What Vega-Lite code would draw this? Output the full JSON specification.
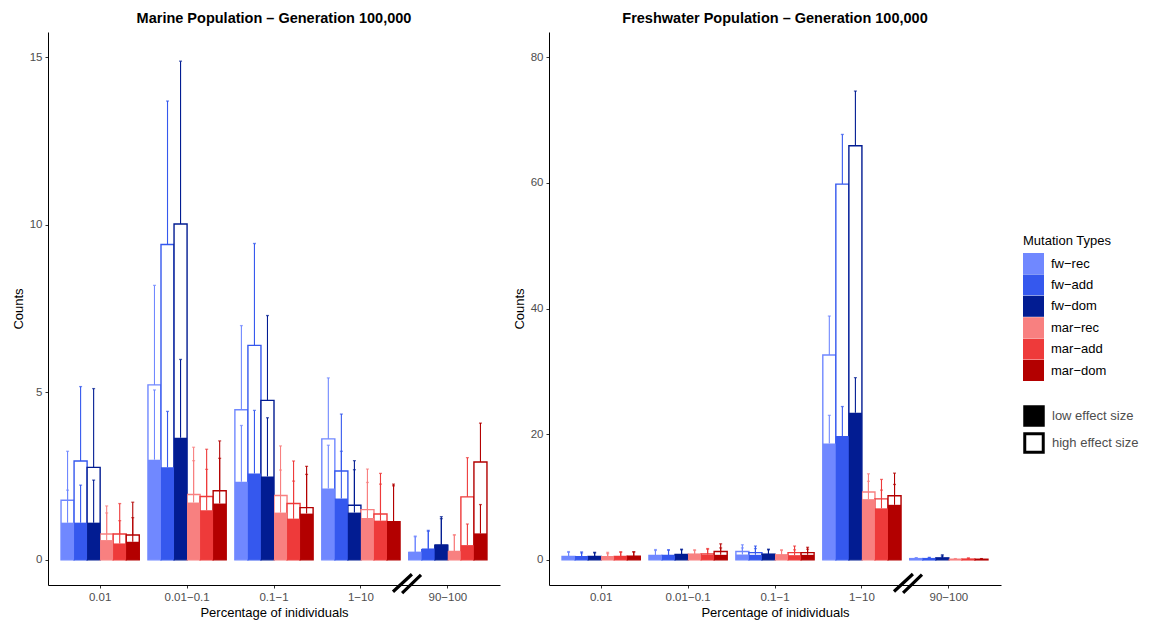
{
  "$schema": "https://vega.github.io/schema/vega-lite/v6.json",
  "padding": {"left": 12, "top": 10, "right": 5, "bottom": 5},
  "datasets": {
    "marine": [
      {"c":"0.01","t":"fw-rec","e":"low effect size","v":1.11,"u":2.08},
      {"c":"0.01","t":"fw-add","e":"low effect size","v":1.11,"u":2.23},
      {"c":"0.01","t":"fw-dom","e":"low effect size","v":1.11,"u":2.38},
      {"c":"0.01","t":"mar-rec","e":"low effect size","v":0.59,"u":1.40},
      {"c":"0.01","t":"mar-add","e":"low effect size","v":0.49,"u":1.17},
      {"c":"0.01","t":"mar-dom","e":"low effect size","v":0.54,"u":1.26},
      {"c":"0.01","t":"fw-rec","e":"high effect size","v":1.78,"u":3.24},
      {"c":"0.01","t":"fw-add","e":"high effect size","v":2.95,"u":5.17},
      {"c":"0.01","t":"fw-dom","e":"high effect size","v":2.76,"u":5.11},
      {"c":"0.01","t":"mar-rec","e":"high effect size","v":0.77,"u":1.61},
      {"c":"0.01","t":"mar-add","e":"high effect size","v":0.77,"u":1.68},
      {"c":"0.01","t":"mar-dom","e":"high effect size","v":0.74,"u":1.72},
      {"c":"0.01-0.1","t":"fw-rec","e":"low effect size","v":2.99,"u":5.07},
      {"c":"0.01-0.1","t":"fw-add","e":"low effect size","v":2.76,"u":4.43},
      {"c":"0.01-0.1","t":"fw-dom","e":"low effect size","v":3.64,"u":5.98},
      {"c":"0.01-0.1","t":"mar-rec","e":"low effect size","v":1.71,"u":2.96},
      {"c":"0.01-0.1","t":"mar-add","e":"low effect size","v":1.48,"u":2.70},
      {"c":"0.01-0.1","t":"mar-dom","e":"low effect size","v":1.68,"u":3.03},
      {"c":"0.01-0.1","t":"fw-rec","e":"high effect size","v":5.22,"u":8.19},
      {"c":"0.01-0.1","t":"fw-add","e":"high effect size","v":9.41,"u":13.69},
      {"c":"0.01-0.1","t":"fw-dom","e":"high effect size","v":10.02,"u":14.88},
      {"c":"0.01-0.1","t":"mar-rec","e":"high effect size","v":1.95,"u":3.36},
      {"c":"0.01-0.1","t":"mar-add","e":"high effect size","v":1.89,"u":3.30},
      {"c":"0.01-0.1","t":"mar-dom","e":"high effect size","v":2.06,"u":3.55},
      {"c":"0.1-1","t":"fw-rec","e":"low effect size","v":2.33,"u":4.01},
      {"c":"0.1-1","t":"fw-add","e":"low effect size","v":2.58,"u":4.46},
      {"c":"0.1-1","t":"fw-dom","e":"low effect size","v":2.49,"u":4.24},
      {"c":"0.1-1","t":"mar-rec","e":"low effect size","v":1.41,"u":2.68},
      {"c":"0.1-1","t":"mar-add","e":"low effect size","v":1.23,"u":2.35},
      {"c":"0.1-1","t":"mar-dom","e":"low effect size","v":1.38,"u":2.55},
      {"c":"0.1-1","t":"fw-rec","e":"high effect size","v":4.48,"u":6.99},
      {"c":"0.1-1","t":"fw-add","e":"high effect size","v":6.40,"u":9.44},
      {"c":"0.1-1","t":"fw-dom","e":"high effect size","v":4.76,"u":7.29},
      {"c":"0.1-1","t":"mar-rec","e":"high effect size","v":1.92,"u":3.40},
      {"c":"0.1-1","t":"mar-add","e":"high effect size","v":1.68,"u":2.95},
      {"c":"0.1-1","t":"mar-dom","e":"high effect size","v":1.56,"u":2.79},
      {"c":"1-10","t":"fw-rec","e":"low effect size","v":2.13,"u":3.42},
      {"c":"1-10","t":"fw-add","e":"low effect size","v":1.83,"u":3.24},
      {"c":"1-10","t":"fw-dom","e":"low effect size","v":1.41,"u":2.69},
      {"c":"1-10","t":"mar-rec","e":"low effect size","v":1.25,"u":2.31},
      {"c":"1-10","t":"mar-add","e":"low effect size","v":1.17,"u":2.26},
      {"c":"1-10","t":"mar-dom","e":"low effect size","v":1.13,"u":2.21},
      {"c":"1-10","t":"fw-rec","e":"high effect size","v":3.61,"u":5.43},
      {"c":"1-10","t":"fw-add","e":"high effect size","v":2.65,"u":4.35},
      {"c":"1-10","t":"fw-dom","e":"high effect size","v":1.63,"u":2.96},
      {"c":"1-10","t":"mar-rec","e":"high effect size","v":1.50,"u":2.71},
      {"c":"1-10","t":"mar-add","e":"high effect size","v":1.37,"u":2.58},
      {"c":"1-10","t":"mar-dom","e":"high effect size","v":1.14,"u":2.26},
      {"c":"90-100","t":"fw-rec","e":"low effect size","v":0.24,"u":0.71},
      {"c":"90-100","t":"fw-add","e":"low effect size","v":0.34,"u":0.88},
      {"c":"90-100","t":"fw-dom","e":"low effect size","v":0.46,"u":1.29},
      {"c":"90-100","t":"mar-rec","e":"low effect size","v":0.26,"u":0.75},
      {"c":"90-100","t":"mar-add","e":"low effect size","v":0.44,"u":1.07},
      {"c":"90-100","t":"mar-dom","e":"low effect size","v":0.79,"u":1.65},
      {"c":"90-100","t":"fw-rec","e":"high effect size","v":0.22,"u":0.69},
      {"c":"90-100","t":"fw-add","e":"high effect size","v":0.30,"u":0.85},
      {"c":"90-100","t":"fw-dom","e":"high effect size","v":0.44,"u":1.23},
      {"c":"90-100","t":"mar-rec","e":"high effect size","v":0.25,"u":0.74},
      {"c":"90-100","t":"mar-add","e":"high effect size","v":1.88,"u":3.05},
      {"c":"90-100","t":"mar-dom","e":"high effect size","v":2.92,"u":4.08}
    ],
    "fresh": [
      {"c":"0.01","t":"fw-rec","e":"low effect size","v":0.6,"u":1.32},
      {"c":"0.01","t":"fw-add","e":"low effect size","v":0.6,"u":1.27},
      {"c":"0.01","t":"fw-dom","e":"low effect size","v":0.6,"u":1.2},
      {"c":"0.01","t":"mar-rec","e":"low effect size","v":0.6,"u":1.2},
      {"c":"0.01","t":"mar-add","e":"low effect size","v":0.6,"u":1.3},
      {"c":"0.01","t":"mar-dom","e":"low effect size","v":0.62,"u":1.3},
      {"c":"0.01","t":"fw-rec","e":"high effect size","v":0.55,"u":1.2},
      {"c":"0.01","t":"fw-add","e":"high effect size","v":0.5,"u":1.1},
      {"c":"0.01","t":"fw-dom","e":"high effect size","v":0.55,"u":1.1},
      {"c":"0.01","t":"mar-rec","e":"high effect size","v":0.5,"u":1.0},
      {"c":"0.01","t":"mar-add","e":"high effect size","v":0.55,"u":1.2},
      {"c":"0.01","t":"mar-dom","e":"high effect size","v":0.6,"u":1.25},
      {"c":"0.01-0.1","t":"fw-rec","e":"low effect size","v":0.74,"u":1.64},
      {"c":"0.01-0.1","t":"fw-add","e":"low effect size","v":0.7,"u":1.55},
      {"c":"0.01-0.1","t":"fw-dom","e":"low effect size","v":0.9,"u":1.7},
      {"c":"0.01-0.1","t":"mar-rec","e":"low effect size","v":0.95,"u":1.6},
      {"c":"0.01-0.1","t":"mar-add","e":"low effect size","v":0.85,"u":1.8},
      {"c":"0.01-0.1","t":"mar-dom","e":"low effect size","v":0.8,"u":1.9},
      {"c":"0.01-0.1","t":"fw-rec","e":"high effect size","v":0.7,"u":1.5},
      {"c":"0.01-0.1","t":"fw-add","e":"high effect size","v":0.72,"u":1.6},
      {"c":"0.01-0.1","t":"fw-dom","e":"high effect size","v":0.85,"u":1.6},
      {"c":"0.01-0.1","t":"mar-rec","e":"high effect size","v":0.9,"u":1.5},
      {"c":"0.01-0.1","t":"mar-add","e":"high effect size","v":0.95,"u":1.7},
      {"c":"0.01-0.1","t":"mar-dom","e":"high effect size","v":1.32,"u":2.55},
      {"c":"0.1-1","t":"fw-rec","e":"low effect size","v":0.85,"u":1.9},
      {"c":"0.1-1","t":"fw-add","e":"low effect size","v":0.8,"u":1.8},
      {"c":"0.1-1","t":"fw-dom","e":"low effect size","v":0.95,"u":1.7},
      {"c":"0.1-1","t":"mar-rec","e":"low effect size","v":0.85,"u":1.6},
      {"c":"0.1-1","t":"mar-add","e":"low effect size","v":0.75,"u":1.6},
      {"c":"0.1-1","t":"mar-dom","e":"low effect size","v":0.8,"u":1.7},
      {"c":"0.1-1","t":"fw-rec","e":"high effect size","v":1.32,"u":2.4},
      {"c":"0.1-1","t":"fw-add","e":"high effect size","v":1.15,"u":2.2},
      {"c":"0.1-1","t":"fw-dom","e":"high effect size","v":0.9,"u":1.6},
      {"c":"0.1-1","t":"mar-rec","e":"high effect size","v":0.8,"u":1.5},
      {"c":"0.1-1","t":"mar-add","e":"high effect size","v":1.15,"u":2.2},
      {"c":"0.1-1","t":"mar-dom","e":"high effect size","v":1.15,"u":2.0},
      {"c":"1-10","t":"fw-rec","e":"low effect size","v":18.52,"u":23.0},
      {"c":"1-10","t":"fw-add","e":"low effect size","v":19.7,"u":24.4},
      {"c":"1-10","t":"fw-dom","e":"low effect size","v":23.4,"u":29.0},
      {"c":"1-10","t":"mar-rec","e":"low effect size","v":9.66,"u":12.5},
      {"c":"1-10","t":"mar-add","e":"low effect size","v":8.2,"u":11.1},
      {"c":"1-10","t":"mar-dom","e":"low effect size","v":8.76,"u":12.0},
      {"c":"1-10","t":"fw-rec","e":"high effect size","v":32.6,"u":38.8},
      {"c":"1-10","t":"fw-add","e":"high effect size","v":59.8,"u":67.7},
      {"c":"1-10","t":"fw-dom","e":"high effect size","v":65.9,"u":74.6},
      {"c":"1-10","t":"mar-rec","e":"high effect size","v":10.8,"u":13.7},
      {"c":"1-10","t":"mar-add","e":"high effect size","v":9.7,"u":12.8},
      {"c":"1-10","t":"mar-dom","e":"high effect size","v":10.2,"u":13.8},
      {"c":"90-100","t":"fw-rec","e":"low effect size","v":0.25,"u":0.35},
      {"c":"90-100","t":"fw-add","e":"low effect size","v":0.25,"u":0.4},
      {"c":"90-100","t":"fw-dom","e":"low effect size","v":0.35,"u":0.8},
      {"c":"90-100","t":"mar-rec","e":"low effect size","v":0.12,"u":0.2},
      {"c":"90-100","t":"mar-add","e":"low effect size","v":0.15,"u":0.3},
      {"c":"90-100","t":"mar-dom","e":"low effect size","v":0.12,"u":0.2},
      {"c":"90-100","t":"fw-rec","e":"high effect size","v":0.2,"u":0.3},
      {"c":"90-100","t":"fw-add","e":"high effect size","v":0.2,"u":0.35},
      {"c":"90-100","t":"fw-dom","e":"high effect size","v":0.3,"u":0.6},
      {"c":"90-100","t":"mar-rec","e":"high effect size","v":0.1,"u":0.15},
      {"c":"90-100","t":"mar-add","e":"high effect size","v":0.12,"u":0.25},
      {"c":"90-100","t":"mar-dom","e":"high effect size","v":0.1,"u":0.15}
    ],
    "brk": [{"c":"1-10"}]
  },
  "hconcat": [
    {
      "title": "Marine Population – Generation 100,000",
      "width": 452,
      "height": 553,
      "data": {"name": "marine"},
      "encoding": {
        "x": {"field": "c", "type": "nominal", "sort": ["0.01","0.01-0.1","0.1-1","1-10","90-100"],
              "scale": {"paddingInner": 0, "paddingOuter": 0.1},
              "axis": {"title": "Percentage of inidividuals", "labelAngle": 0, "labelExpr": "replace(datum.label, '-', '−')"}},
        "xOffset": {"field": "t", "type": "nominal", "scale": {"domain": ["fw-rec","fw-add","fw-dom","mar-rec","mar-add","mar-dom"], "paddingInner": 0, "paddingOuter": 0.333}}
      },
      "layer": [
        {
          "transform": [{"filter": "datum.e === 'high effect size'"}],
          "mark": {"type": "bar", "strokeWidth": 1.4},
          "encoding": {
            "y": {"field": "v", "type": "quantitative", "scale": {"domain": [-0.75, 15.75], "nice": false, "zero": false},
                  "axis": {"title": "Counts", "values": [0, 5, 10, 15]}},
            "y2": {"datum": 0},
            "stroke": {"field": "t", "type": "nominal",
                       "scale": {"domain": ["fw-rec","fw-add","fw-dom","mar-rec","mar-add","mar-dom"], "range": ["#7088ff", "#3558ee", "#021c92", "#f88080", "#ee3a3a", "#b30000"]},
                       "legend": {"title": "Mutation Types", "symbolType": "square", "symbolSize": 441, "symbolStrokeWidth": 0, "rowPadding": 0.4,
                                  "labelExpr": "replace(datum.label, '-', '−')", "orient": "none", "legendX": 975, "legendY": 203, "titlePadding": 5}},
            "fill": {"field": "e", "type": "nominal",
                     "scale": {"domain": ["low effect size", "high effect size"], "range": ["black", "white"]},
                     "legend": {"title": null, "symbolType": "square", "symbolSize": 342, "symbolStrokeWidth": 3, "symbolStrokeColor": "black",
                                "rowPadding": -11.5, "labelColor": "#4d4d4d", "orient": "none", "legendX": 975, "legendY": 373}}
          }
        },
        {
          "transform": [{"filter": "datum.e === 'low effect size'"}],
          "mark": {"type": "bar"},
          "encoding": {
            "y": {"field": "v", "type": "quantitative"},
            "y2": {"datum": 0},
            "color": {"field": "t", "type": "nominal",
                      "scale": {"domain": ["fw-rec","fw-add","fw-dom","mar-rec","mar-add","mar-dom"], "range": ["#7088ff", "#3558ee", "#021c92", "#f88080", "#ee3a3a", "#b30000"]},
                      "legend": {"title": "Mutation Types", "symbolType": "square", "symbolSize": 441, "symbolStrokeWidth": 0, "rowPadding": 0.4,
                                 "labelExpr": "replace(datum.label, '-', '−')", "orient": "none", "legendX": 975, "legendY": 203, "titlePadding": 5}}
          }
        },
        {
          "mark": {"type": "rule", "strokeWidth": 1.1},
          "encoding": {
            "y": {"field": "v", "type": "quantitative"},
            "y2": {"field": "u"},
            "color": {"field": "t", "type": "nominal"}
          }
        },
        {
          "mark": {"type": "tick", "size": 3, "thickness": 1.3},
          "encoding": {
            "y": {"field": "u", "type": "quantitative"},
            "color": {"field": "t", "type": "nominal"}
          }
        },
        {
          "data": {"name": "brk"},
          "mark": {"type": "point", "shape": "M-1,0.6L0.35,-0.65M-0.35,0.7L1,-0.6", "size": 784, "filled": false, "strokeWidth": 3.2, "color": "black", "opacity": 1},
          "encoding": {
            "x": {"field": "c", "type": "nominal", "bandPosition": 1.03},
            "xOffset": null,
            "y": {"datum": -0.7}
          }
        }
      ]
    },
    {
      "title": "Freshwater Population – Generation 100,000",
      "width": 452,
      "height": 553,
      "data": {"name": "fresh"},
      "encoding": {
        "x": {"field": "c", "type": "nominal", "sort": ["0.01","0.01-0.1","0.1-1","1-10","90-100"],
              "scale": {"paddingInner": 0, "paddingOuter": 0.1},
              "axis": {"title": "Percentage of inidividuals", "labelAngle": 0, "labelExpr": "replace(datum.label, '-', '−')"}},
        "xOffset": {"field": "t", "type": "nominal", "scale": {"domain": ["fw-rec","fw-add","fw-dom","mar-rec","mar-add","mar-dom"], "paddingInner": 0, "paddingOuter": 0.333}}
      },
      "layer": [
        {
          "transform": [{"filter": "datum.e === 'high effect size'"}],
          "mark": {"type": "bar", "strokeWidth": 1.4},
          "encoding": {
            "y": {"field": "v", "type": "quantitative", "scale": {"domain": [-4, 84], "nice": false, "zero": false},
                  "axis": {"title": "Counts", "values": [0, 20, 40, 60, 80]}},
            "y2": {"datum": 0},
            "stroke": {"field": "t", "type": "nominal"},
            "fill": {"field": "e", "type": "nominal"}
          }
        },
        {
          "transform": [{"filter": "datum.e === 'low effect size'"}],
          "mark": {"type": "bar"},
          "encoding": {
            "y": {"field": "v", "type": "quantitative"},
            "y2": {"datum": 0},
            "color": {"field": "t", "type": "nominal"}
          }
        },
        {
          "mark": {"type": "rule", "strokeWidth": 1.1},
          "encoding": {
            "y": {"field": "v", "type": "quantitative"},
            "y2": {"field": "u"},
            "color": {"field": "t", "type": "nominal"}
          }
        },
        {
          "mark": {"type": "tick", "size": 3, "thickness": 1.3},
          "encoding": {
            "y": {"field": "u", "type": "quantitative"},
            "color": {"field": "t", "type": "nominal"}
          }
        },
        {
          "data": {"name": "brk"},
          "mark": {"type": "point", "shape": "M-1,0.6L0.35,-0.65M-0.35,0.7L1,-0.6", "size": 784, "filled": false, "strokeWidth": 3.2, "color": "black", "opacity": 1},
          "encoding": {
            "x": {"field": "c", "type": "nominal", "bandPosition": 1.03},
            "xOffset": null,
            "y": {"datum": -3.7}
          }
        }
      ]
    }
  ],
  "spacing": 13,
  "resolve": {"scale": {"y": "independent", "x": "independent"}},
  "config": {
    "font": "Liberation Sans",
    "view": {"stroke": null},
    "title": {"fontSize": 14.5, "fontWeight": "bold", "color": "black", "offset": 6},
    "axis": {"domainColor": "black", "domainWidth": 1, "tickColor": "#333333", "tickSize": 3, "tickWidth": 1,
             "labelColor": "#4d4d4d", "labelFontSize": 11.5, "labelPadding": 3,
             "titleFontSize": 13, "titleFontWeight": "normal", "titleColor": "black", "grid": false},
    "legend": {"titleFontSize": 13, "titleFontWeight": "normal", "titleColor": "black", "labelFontSize": 13, "labelColor": "black", "padding": 0, "labelOffset": 7}
  }
}
